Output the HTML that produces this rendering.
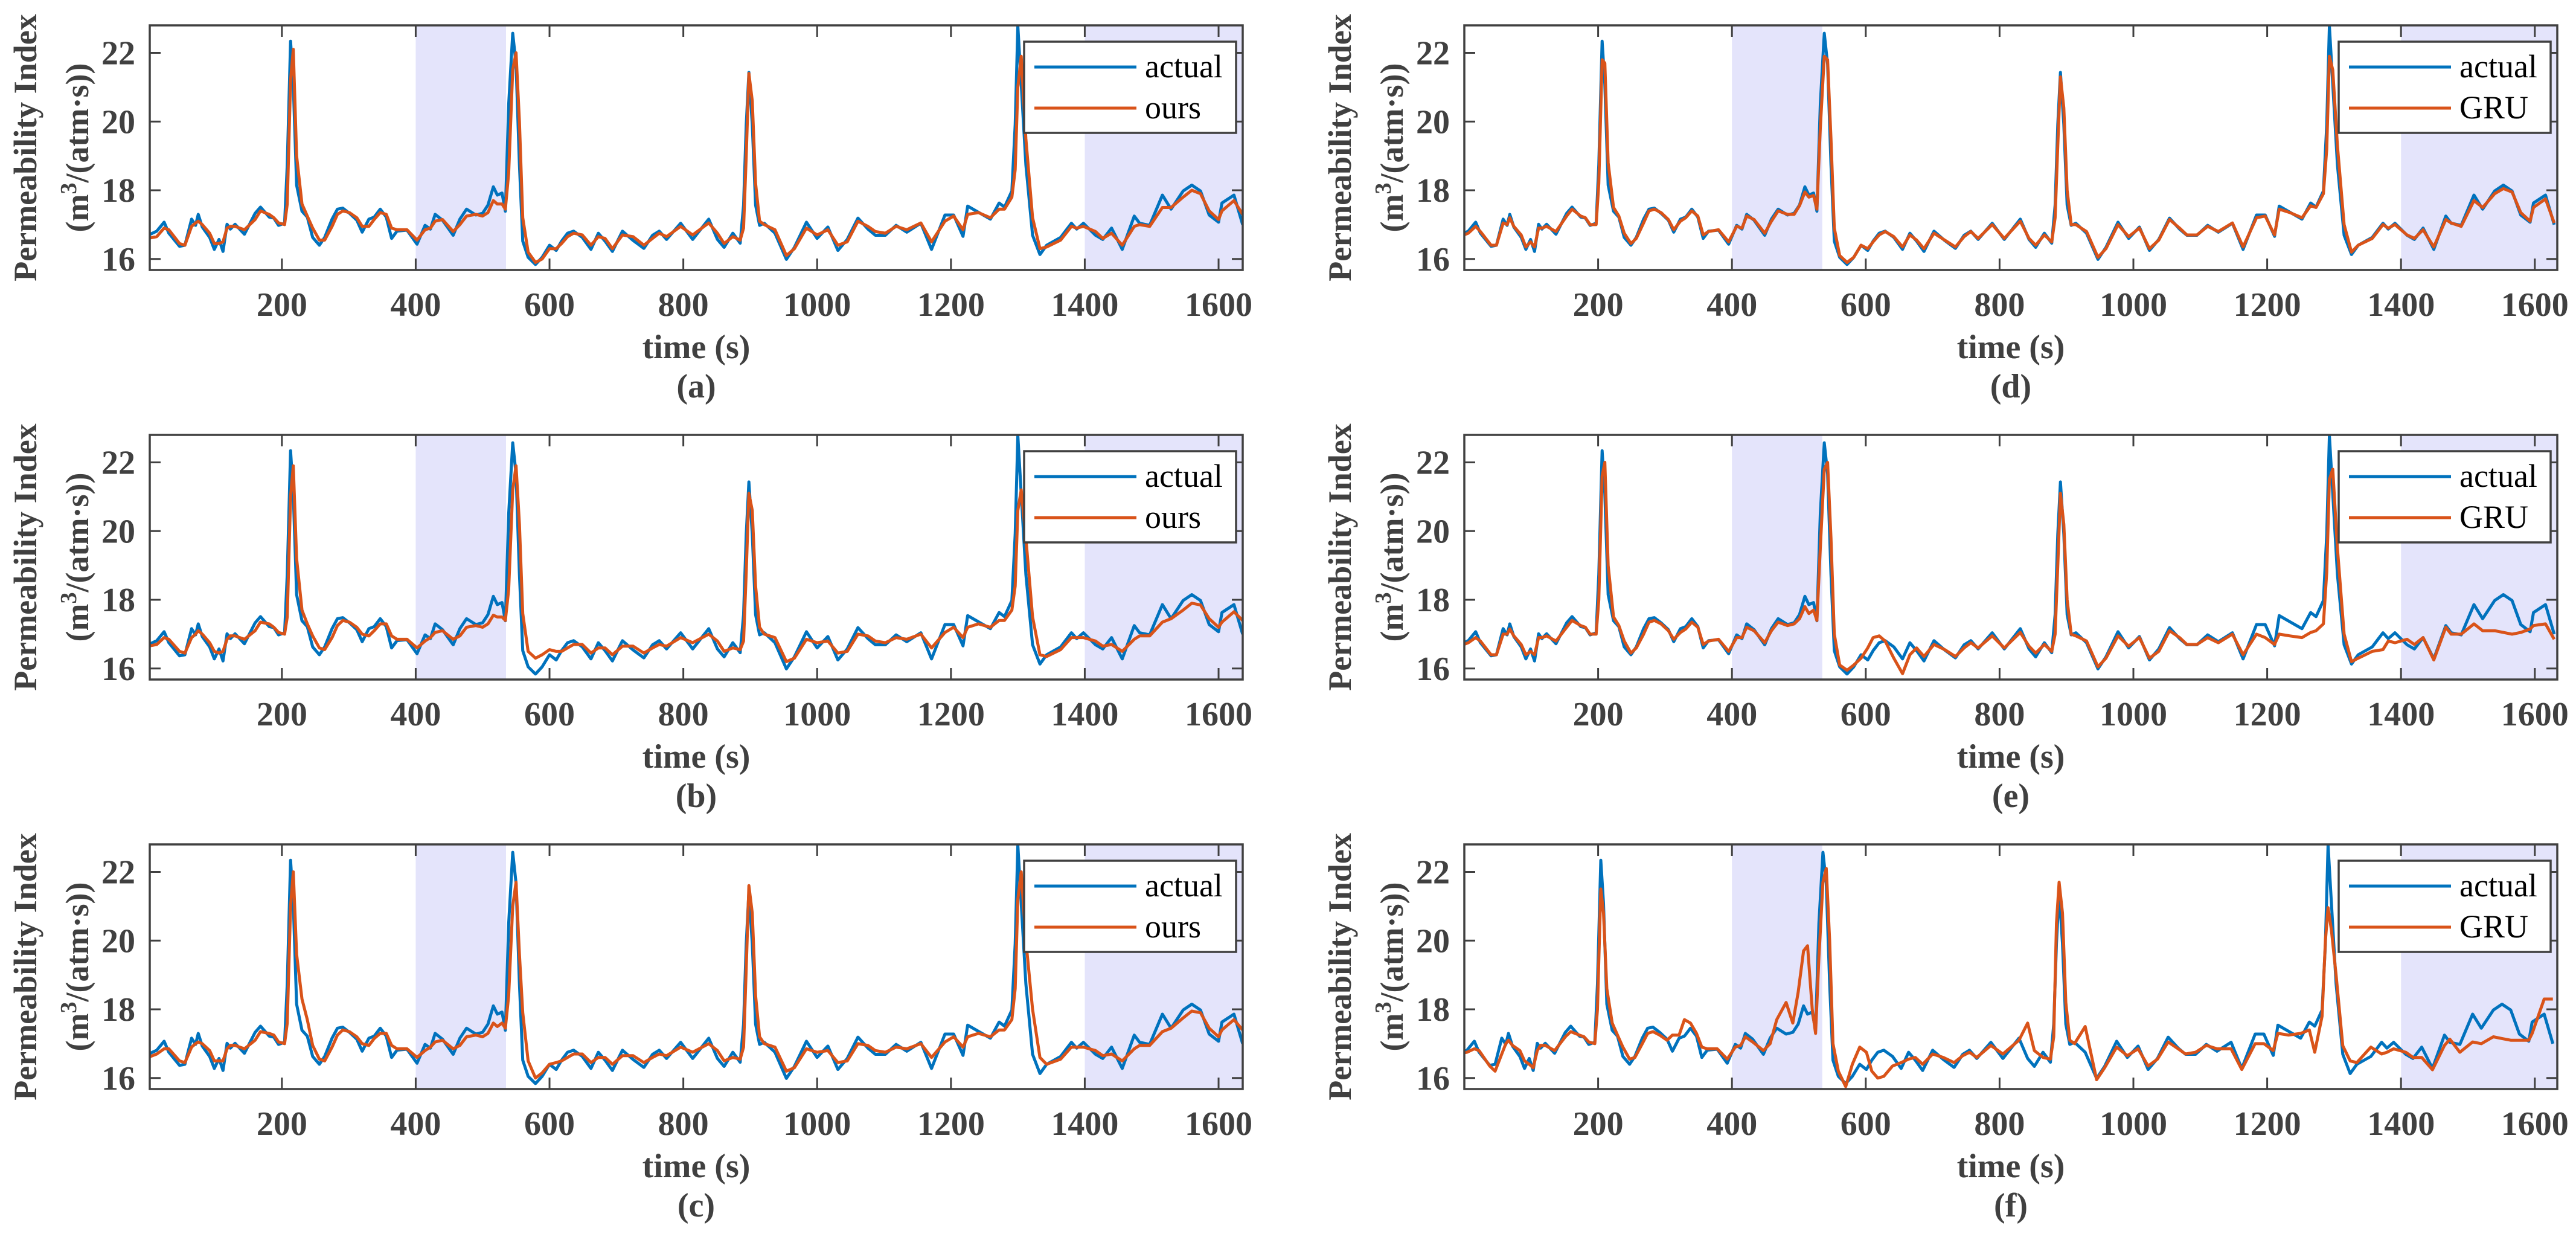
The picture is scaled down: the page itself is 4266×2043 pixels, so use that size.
<!DOCTYPE html>
<html><head><meta charset="utf-8">
<style>
html,body{margin:0;padding:0;background:#fff;}
svg{display:block;}
text{font-family:"Liberation Serif","Times New Roman",serif;}
</style></head>
<body>
<svg id="fig" width="4266" height="2043" viewBox="0 0 4266 2043" xmlns="http://www.w3.org/2000/svg"></svg>
<script>
const timeSec = [0,13,24,31,47,55,65,71,75,81, 92,99,106,112,118,123,130,144,160,168, 181,188,195,204,208,213,217,222,230,238, 246,256,264,275,283,291,301,312,320,330, 338,347,356,364,372,387,402,414,422,429, 440,456,466,476,490,500,508,516,522,529, 534,539,545,550,555,560,568,579,589,600, 610,618,627,636,649,662,673,683,694,709, 725,741,754,764,775,796,814,838,851,861, 874,885,890,894,898,903,908,914,921,937, 954,966,984,1000,1016,1031,1045,1061,1076,1087, 1102,1118,1134,1155,1171,1191,1204,1218,1225,1241, 1259,1272,1280,1291,1296,1300,1305,1312,1322,1333, 1343,1364,1380,1388,1398,1416,1427,1440,1456,1474, 1482,1497,1516,1529,1547,1560,1573,1586,1600,1605, 1623,1636];
const actualValues = [16.69,16.81,17.07,16.75,16.37,16.4,17.16,16.98,17.3,16.93, 16.63,16.28,16.57,16.22,17.01,16.87,17.01,16.72,17.33,17.51, 17.22,17.19,16.98,17.04,18.74,22.34,21.08,18.15,17.39,17.22, 16.63,16.4,16.63,17.16,17.45,17.48,17.33,17.13,16.78,17.16, 17.22,17.45,17.22,16.6,16.81,16.84,16.43,16.98,16.87,17.3, 17.13,16.69,17.16,17.45,17.28,17.33,17.57,18.1,17.86,17.92, 17.39,20.5,22.57,21.67,18.74,16.52,16.05,15.84,16.05,16.4, 16.25,16.52,16.75,16.81,16.63,16.28,16.75,16.52,16.22,16.81, 16.54,16.31,16.69,16.81,16.57,17.04,16.57,17.16,16.57,16.34, 16.75,16.46,17.57,19.91,21.43,19.91,17.57,16.98,17.04,16.75, 15.99,16.34,17.07,16.6,16.93,16.25,16.57,17.19,16.87,16.69, 16.69,16.98,16.78,17.04,16.28,17.28,17.28,16.66,17.54,17.36, 17.16,17.63,17.51,17.98,19.91,22.78,21.08,18.74,16.69,16.13, 16.4,16.63,17.04,16.87,17.04,16.69,16.57,16.9,16.28,17.25, 17.04,16.98,17.86,17.45,17.98,18.15,17.98,17.28,17.07,17.63, 17.86,17.0];
const oursA = [16.6,16.65,16.9,16.85,16.45,16.4,16.95,17.05,17.1,17.0, 16.75,16.45,16.45,16.5,16.9,16.95,16.95,16.85,17.15,17.4, 17.3,17.2,17.05,17.0,17.6,21.2,22.1,19.0,17.6,17.25, 16.9,16.55,16.55,16.95,17.3,17.4,17.35,17.2,16.95,16.95, 17.15,17.35,17.3,16.9,16.85,16.85,16.55,16.85,16.9,17.1, 17.15,16.8,17.0,17.25,17.3,17.25,17.35,17.7,17.6,17.6, 17.45,18.5,21.5,22.0,20.0,17.2,16.2,15.9,16.0,16.3, 16.3,16.45,16.65,16.75,16.7,16.4,16.65,16.6,16.3,16.7, 16.65,16.4,16.6,16.75,16.65,16.95,16.7,17.05,16.75,16.45, 16.65,16.55,16.9,19.0,21.4,20.6,18.2,17.1,17.0,16.85, 16.1,16.3,16.9,16.7,16.85,16.4,16.5,17.1,16.95,16.8, 16.75,16.95,16.85,17.05,16.5,17.1,17.25,16.85,17.3,17.35, 17.2,17.45,17.45,17.8,18.6,21.0,21.9,19.5,17.2,16.3, 16.35,16.55,16.95,16.9,16.95,16.8,16.6,16.75,16.4,16.95, 17.0,16.95,17.5,17.5,17.8,18.0,17.9,17.4,17.15,17.4, 17.7,17.3];
const oursB = [16.65,16.7,16.9,16.85,16.5,16.45,16.9,17.0,17.1,17.0, 16.75,16.5,16.45,16.5,16.85,16.95,16.95,16.85,17.1,17.35, 17.3,17.2,17.05,17.0,17.5,21.0,21.9,19.2,17.7,17.3, 16.95,16.6,16.55,16.9,17.25,17.4,17.35,17.2,17.0,16.95, 17.1,17.3,17.3,16.95,16.85,16.85,16.6,16.8,16.9,17.05, 17.1,16.85,16.95,17.2,17.25,17.2,17.3,17.55,17.5,17.5, 17.4,18.3,21.2,21.9,20.2,17.6,16.5,16.3,16.4,16.55, 16.5,16.5,16.6,16.7,16.7,16.45,16.6,16.6,16.4,16.65, 16.65,16.45,16.6,16.7,16.65,16.9,16.75,17.0,16.8,16.5, 16.6,16.55,16.8,18.8,21.1,20.6,18.4,17.2,17.0,16.9, 16.2,16.3,16.85,16.75,16.8,16.45,16.5,17.0,16.95,16.8, 16.75,16.9,16.85,17.0,16.6,17.05,17.2,16.9,17.2,17.3, 17.2,17.4,17.4,17.7,18.4,20.6,21.2,19.8,17.5,16.4, 16.35,16.55,16.9,16.9,16.9,16.8,16.65,16.7,16.5,16.85, 16.95,16.95,17.35,17.45,17.7,17.9,17.85,17.45,17.2,17.35, 17.65,17.4];
const oursC = [16.6,16.7,16.85,16.85,16.5,16.45,16.9,17.0,17.05,17.0, 16.8,16.5,16.5,16.5,16.85,16.95,16.95,16.85,17.1,17.35, 17.3,17.25,17.05,17.0,17.6,21.0,22.0,19.6,18.3,17.7, 16.95,16.55,16.5,16.9,17.25,17.4,17.35,17.2,17.0,16.95, 17.15,17.3,17.3,16.95,16.85,16.85,16.6,16.8,16.9,17.05, 17.1,16.85,16.95,17.2,17.25,17.2,17.3,17.6,17.5,17.6, 17.45,18.4,21.0,21.7,19.6,17.9,16.5,16.0,16.15,16.4, 16.45,16.5,16.6,16.7,16.7,16.45,16.6,16.6,16.4,16.65, 16.65,16.45,16.6,16.7,16.65,16.9,16.75,17.0,16.8,16.5, 16.6,16.55,16.9,19.2,21.6,20.8,18.4,17.2,17.0,16.9, 16.2,16.3,16.85,16.75,16.8,16.45,16.5,17.0,16.95,16.8, 16.75,16.9,16.85,17.0,16.6,17.05,17.2,16.9,17.2,17.3, 17.2,17.4,17.4,17.7,18.6,21.2,22.0,20.0,18.0,16.6, 16.4,16.55,16.9,16.9,16.9,16.8,16.65,16.7,16.5,16.85, 16.95,16.95,17.35,17.45,17.75,17.95,17.9,17.45,17.2,17.4, 17.7,17.4];
const gruD = [16.65,16.75,16.95,16.8,16.4,16.4,17.05,17.0,17.2,16.95, 16.7,16.35,16.5,16.35,16.9,16.9,16.95,16.8,17.25,17.45, 17.25,17.2,17.0,17.0,18.2,21.8,21.7,18.8,17.5,17.25, 16.75,16.45,16.6,17.05,17.4,17.45,17.35,17.15,16.85,17.1, 17.2,17.4,17.25,16.7,16.8,16.85,16.5,16.95,16.9,17.25, 17.15,16.75,17.1,17.4,17.3,17.3,17.55,17.95,17.8,17.85, 17.45,19.8,21.9,21.8,19.5,16.9,16.1,15.9,16.05,16.4, 16.3,16.5,16.7,16.8,16.65,16.35,16.7,16.55,16.3,16.75, 16.55,16.35,16.65,16.8,16.6,17.0,16.6,17.1,16.6,16.4, 16.7,16.5,17.2,19.3,21.3,20.4,18.0,17.0,17.0,16.8, 16.05,16.3,17.0,16.65,16.9,16.3,16.55,17.15,16.9,16.7, 16.7,16.95,16.8,17.05,16.35,17.2,17.25,16.7,17.45,17.35, 17.2,17.55,17.5,17.9,19.2,21.9,21.5,19.3,17.0,16.2, 16.4,16.6,17.0,16.9,17.0,16.7,16.6,16.85,16.35,17.15, 17.05,16.95,17.7,17.5,17.9,18.05,17.95,17.35,17.1,17.5, 17.75,17.05];
const gruE = [16.65,16.75,16.9,16.8,16.4,16.4,17.0,17.0,17.15,16.95, 16.7,16.4,16.5,16.4,16.9,16.9,16.95,16.8,17.2,17.4, 17.25,17.2,17.0,17.0,18.0,21.6,22.0,19.0,17.5,17.25, 16.8,16.45,16.6,17.0,17.35,17.4,17.3,17.1,16.85,17.05, 17.15,17.35,17.2,16.7,16.8,16.85,16.5,16.9,16.9,17.2, 17.1,16.75,17.1,17.35,17.25,17.3,17.45,17.8,17.6,17.7, 17.4,19.5,21.8,22.0,19.8,17.0,16.1,15.95,16.1,16.3, 16.6,16.9,16.95,16.8,16.3,15.85,16.4,16.6,16.35,16.7, 16.55,16.35,16.6,16.75,16.6,16.95,16.6,17.05,16.65,16.45, 16.7,16.5,17.0,19.0,21.1,20.2,18.0,17.0,16.95,16.8, 16.05,16.3,16.95,16.65,16.9,16.3,16.5,17.1,16.9,16.7, 16.7,16.9,16.75,17.0,16.4,17.0,16.9,16.7,17.0,16.95, 16.9,17.05,17.1,17.3,18.8,21.5,21.8,19.5,17.0,16.2, 16.3,16.5,16.55,16.8,16.75,16.85,16.7,16.9,16.25,17.2, 17.0,17.0,17.3,17.1,17.1,17.05,17.0,17.05,17.15,17.25, 17.3,16.85];
const gruF = [16.7,16.75,16.85,16.8,16.35,16.2,16.7,17.0,17.1,16.95, 16.8,16.5,16.4,16.3,16.8,16.95,16.95,16.8,17.2,17.35, 17.25,17.2,17.05,17.0,18.0,21.5,20.8,18.6,17.6,17.25, 16.9,16.55,16.6,17.0,17.3,17.35,17.25,17.1,17.25,17.25, 17.7,17.6,17.3,16.9,16.85,16.85,16.55,16.9,16.95,17.2, 17.05,16.8,17.0,17.7,18.2,17.6,18.5,19.7,19.85,18.0, 17.3,19.5,21.7,22.1,20.0,17.0,16.2,15.75,16.4,16.9, 16.75,16.2,16.0,16.05,16.35,16.45,16.55,16.6,16.4,16.7, 16.6,16.45,16.65,16.75,16.6,16.95,16.7,17.1,17.6,16.8, 16.6,16.55,17.2,20.5,21.7,20.8,18.2,17.1,17.0,17.5, 15.95,16.3,16.9,16.65,16.85,16.35,16.55,17.05,16.85,16.7, 16.75,16.95,16.85,16.85,16.25,17.0,17.0,16.8,17.3,17.25, 17.3,17.4,16.75,17.8,20.0,20.96,20.3,19.0,16.94,16.5, 16.45,16.9,16.7,16.75,16.85,16.75,16.6,16.6,16.24,16.95, 17.13,16.75,17.05,17.0,17.2,17.15,17.1,17.1,17.1,17.3, 18.3,18.3];
const xTickLabels = [200,400,600,800,1000,1200,1400,1600];
const yTickLabels = [16,18,20,22];
const shadedSpans = [[400,535],[1400,1700]];
const panelLetters = ['(a)','(b)','(c)','(d)','(e)','(f)'];
const predLabels = ['ours','ours','ours','GRU','GRU','GRU'];
const timeShifts = [0,0,0,-7,-7,-9];

const NS='http://www.w3.org/2000/svg';
const svg=document.getElementById('fig');
function mk(tag,attrs,parent){const e=document.createElementNS(NS,tag);for(const k in attrs)e.setAttribute(k,attrs[k]);(parent||svg).appendChild(e);return e;}
const preds=[oursA,oursB,oursC,gruD,gruE,gruF];
const lefts=[248,248,248,2425,2425,2425];
const tops=[42,720,1398,42,720,1398];
const W=1810,H=405;
const AX='#404040',BLUE='#0072BD',ORANGE='#D95319';

for(let p=0;p<6;p++){
  const L=lefts[p],T=tops[p],R=L+W,B=T+H;
  const xmin = p<3?2.5:0, xmax = xmin+W/1.108;
  const ymin=15.68,ymax=22.8;
  const xs=t=>L+(t-xmin)/(xmax-xmin)*W;
  const ys=v=>B-(v-ymin)/(ymax-ymin)*H;
  const g=mk('g',{});
  
  
  const cp=mk('clipPath',{id:'clip'+p},g);
  mk('rect',{x:L,y:T,width:W,height:H},cp);
  shadedSpans.forEach((s,i)=>{
    const x1=Math.max(L,xs(s[0])),x2=Math.min(R,xs(s[1]));
    const r=mk('rect',{x:x1,y:T,width:x2-x1,height:H,fill:'#e4e4fb'},g);
    
    
  });
  const series=[[actualValues,BLUE,'actual-line'],[preds[p],ORANGE,'prediction-line']];
  series.forEach(sr=>{
    let d='';
    sr[0].forEach((v,i)=>{d+=(i?'L':'M')+xs(timeSec[i]+timeShifts[p]).toFixed(1)+','+ys(v).toFixed(1);});
    const path=mk('path',{d:d,fill:'none',stroke:sr[1],'stroke-width':5,'stroke-linejoin':'round','clip-path':'url(#clip'+p+')'},g);
    
    
  });
  // ticks
  xTickLabels.forEach(t=>{
    const x=xs(t);
    mk('line',{x1:x,y1:B,x2:x,y2:B-19,stroke:AX,'stroke-width':3},g);
    mk('line',{x1:x,y1:T,x2:x,y2:T+19,stroke:AX,'stroke-width':3},g);
    const tx=mk('text',{x:x,y:B+76,'font-size':56,'font-weight':'bold',fill:AX,'text-anchor':'middle'},g);
    tx.textContent=t;
    
    
  });
  yTickLabels.forEach(v=>{
    const y=ys(v);
    mk('line',{x1:L,y1:y,x2:L+18,y2:y,stroke:AX,'stroke-width':3},g);
    mk('line',{x1:R,y1:y,x2:R-18,y2:y,stroke:AX,'stroke-width':3},g);
    const tx=mk('text',{x:L-24,y:y+19,'font-size':56,'font-weight':'bold',fill:AX,'text-anchor':'end'},g);
    tx.textContent=v;
    
    
  });
  const box=mk('rect',{x:L,y:T,width:W,height:H,fill:'none',stroke:AX,'stroke-width':3.5},g);
  
  
  // labels
  const xl=mk('text',{x:L+W/2,y:B+146,'font-size':56,'font-weight':'bold',fill:AX,'text-anchor':'middle'},g);
  xl.textContent='time (s)';
  
  
  const cap=mk('text',{x:L+W/2,y:B+211,'font-size':56,'font-weight':'bold',fill:AX,'text-anchor':'middle'},g);
  cap.textContent=panelLetters[p];
  
  
  const cy=T+H/2;
  const yl1=mk('text',{x:0,y:0,'font-size':54,'font-weight':'bold',fill:AX,'text-anchor':'middle',transform:'translate('+(L-188)+','+cy+') rotate(-90)'},g);
  yl1.textContent='Permeability Index';
  
  
  const yl2=mk('text',{x:0,y:0,'font-size':54,'font-weight':'bold',fill:AX,'text-anchor':'middle',transform:'translate('+(L-102)+','+cy+') rotate(-90)'},g);
  yl2.innerHTML='(m<tspan dy="-20" font-size="38">3</tspan><tspan dy="20">/(atm·s))</tspan>';
  
  
  // legend
  const lg=mk('g',{},g);
  
  
  const lx=R-362,ly=T+27;
  mk('rect',{x:lx,y:ly,width:351,height:151,fill:'#fff',stroke:AX,'stroke-width':3.5},lg);
  const ent=[['actual',BLUE,42],[predLabels[p],ORANGE,110]];
  ent.forEach(e=>{
    const le=mk('line',{x1:lx+17,y1:ly+e[2],x2:lx+186,y2:ly+e[2],stroke:e[1],'stroke-width':5},lg);
    
    
    const t=mk('text',{x:lx+200,y:ly+e[2]+17,'font-size':54,fill:'#000'},lg);
    t.textContent=e[0];
    
    
  });
}
</script>
</body></html>
